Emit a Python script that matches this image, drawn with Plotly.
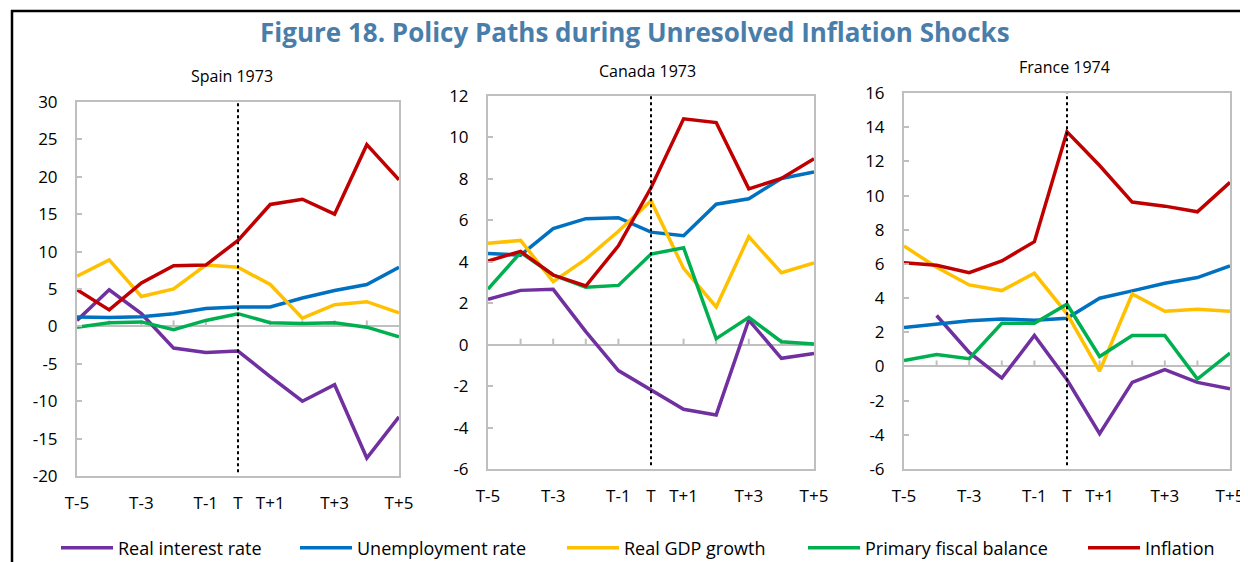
import plotly.graph_objects as go

# ---------------- data ----------------
periods = ["T-5", "T-4", "T-3", "T-2", "T-1", "T", "T+1", "T+2", "T+3", "T+4", "T+5"]
tick_labels = ["T-5", "", "T-3", "", "T-1", "T", "T+1", "", "T+3", "", "T+5"]
series_names = ["Real interest rate", "Unemployment rate", "Real GDP growth",
                "Primary fiscal balance", "Inflation"]
series_colors = ["#7030A0", "#0070C0", "#FFC000", "#00B050", "#C00000"]

panel_titles = ["Spain 1973", "Canada 1973", "France 1974"]

# Spain 1973
spain_real_rate = [0.8, 4.9, 1.7, -2.9, -3.5, -3.3, -6.7, -10.0, -7.8, -17.6, -12.1]
spain_unemp = [1.25, 1.2, 1.3, 1.7, 2.4, 2.6, 2.6, 3.8, 4.8, 5.6, 7.9]
spain_gdp = [6.7, 8.9, 4.0, 5.0, 8.2, 7.9, 5.6, 1.1, 2.9, 3.3, 1.8]
spain_fiscal = [-0.1, 0.5, 0.6, -0.45, 0.8, 1.7, 0.5, 0.4, 0.5, -0.1, -1.4]
spain_infl = [4.9, 2.2, 5.8, 8.1, 8.2, 11.5, 16.3, 17.0, 15.0, 24.3, 19.6]

# Canada 1973
canada_real_rate = [2.19, 2.62, 2.67, 0.63, -1.25, -2.19, -3.12, -3.39, 1.19, -0.66, -0.42]
canada_unemp = [4.4, 4.32, 5.6, 6.08, 6.13, 5.43, 5.26, 6.78, 7.04, 8.02, 8.33]
canada_gdp = [4.89, 5.03, 3.04, 4.13, 5.47, 6.95, 3.68, 1.82, 5.21, 3.47, 3.95]
canada_fiscal = [2.68, 4.45, 3.36, 2.77, 2.86, 4.37, 4.68, 0.29, 1.32, 0.14, 0.03]
canada_infl = [4.04, 4.5, 3.36, 2.83, 4.77, 7.57, 10.9, 10.72, 7.52, 8.02, 8.97]

# France 1974
france_real_rate = [None, 2.98, 0.82, -0.68, 1.81, -0.78, -3.93, -0.93, -0.19, -0.93, -1.3]
france_unemp = [2.28, 2.47, 2.67, 2.78, 2.71, 2.82, 3.99, 4.42, 4.87, 5.2, 5.88]
france_gdp = [7.05, 5.8, 4.77, 4.44, 5.45, 3.08, -0.27, 4.24, 3.23, 3.35, 3.23]
france_fiscal = [0.35, 0.7, 0.45, 2.53, 2.53, 3.64, 0.58, 1.81, 1.81, -0.74, 0.78]
france_infl = [6.07, 5.92, 5.49, 6.17, 7.3, 13.73, 11.76, 9.62, 9.38, 9.05, 10.77]

y_ranges = [[-20, 30], [-6, 12], [-6, 16]]
y_dticks = [5, 2, 2]
shock_period = "T"

panels = [
    [spain_real_rate, spain_unemp, spain_gdp, spain_fiscal, spain_infl],
    [canada_real_rate, canada_unemp, canada_gdp, canada_fiscal, canada_infl],
    [france_real_rate, france_unemp, france_gdp, france_fiscal, france_infl],
]

# ---------------- layout geometry ----------------
PAGE_W, PAGE_H = 1248, 562
OFF = 8                      # default page body margin
W, H = PAGE_W - OFF, PAGE_H - OFF
FONT = "Open Sans"
GRAY = "#BFBFBF"


def fx(px):
    return (px - OFF) / W


def fy(py):
    return 1 - (py - OFF) / H


x_domains = [[fx(77), fx(399)], [fx(488), fx(814)], [fx(904), fx(1230)]]
y_domains = [[fy(476), fy(102)], [fy(469), fy(96)], [fy(469), fy(93)]]
title_pos = [(fx(232), fy(76)), (fx(647), fy(71)), (fx(1064), fy(67))]
legend_x = [61, 300, 567, 808, 1088]   # left edge of each legend line sample (px)

fig = go.Figure()
idx = list(range(len(periods)))
shock_idx = periods.index(shock_period)
legend_keys = ["legend"] + [f"legend{k}" for k in range(2, len(series_names) + 1)]

for p, panel in enumerate(panels):
    xa = "x" if p == 0 else f"x{p+1}"
    ya = "y" if p == 0 else f"y{p+1}"
    for s, vals in enumerate(panel):
        fig.add_trace(go.Scatter(
            x=idx, y=vals, mode="lines", name=series_names[s],
            line=dict(color=series_colors[s], width=3.5),
            showlegend=(p == 0), legend=legend_keys[s],
            xaxis=xa, yaxis=ya, connectgaps=False, hoverinfo="skip",
        ))

    lo, hi = y_ranges[p]
    yt = list(range(lo, hi + 1, y_dticks[p]))
    axis_suffix = "" if p == 0 else str(p + 1)
    fig.update_layout(**{
        f"xaxis{axis_suffix}": dict(
            domain=x_domains[p], anchor=ya, range=[0, len(periods) - 1],
            tickmode="array", tickvals=idx, ticktext=tick_labels,
            showgrid=False, zeroline=False, ticks="", automargin=False,
            showline=True, linecolor=GRAY, linewidth=2, mirror=True,
            tickfont=dict(family=FONT, size=17, color="#000000"),
            ticklabelstandoff=11, ticklabeloverflow="allow", fixedrange=True,
        ),
        f"yaxis{axis_suffix}": dict(
            domain=y_domains[p], anchor=xa, range=y_ranges[p],
            tickmode="array", tickvals=yt, ticktext=[f"{v:d}" for v in yt],
            showgrid=False, zeroline=True, zerolinecolor=GRAY, zerolinewidth=2,
            ticks="inside", ticklen=5, tickwidth=2, tickcolor=GRAY, automargin=False,
            showline=True, linecolor=GRAY, linewidth=2, mirror=True,
            tickfont=dict(family=FONT, size=17, color="#000000"),
            ticklabelstandoff=14, fixedrange=True,
        ),
    })

    # small tick marks on the zero line
    for i in idx[1:-1]:
        fig.add_shape(type="line", xref=xa, yref=ya, x0=i, x1=i,
                      ysizemode="pixel", yanchor=0, y0=0, y1=6,
                      line=dict(color=GRAY, width=2), layer="below")

    # dotted vertical line at T
    fig.add_shape(type="line", xref=xa, yref=f"{ya} domain", x0=shock_idx, x1=shock_idx,
                  y0=0.01, y1=1, line=dict(color="#000000", width=2, dash="dot"))

    fig.add_annotation(text=panel_titles[p], xref="paper", yref="paper",
                       x=title_pos[p][0], y=title_pos[p][1], showarrow=False,
                       xanchor="center", yanchor="middle",
                       font=dict(family=FONT, size=16, color="#000000"))

# Main title
fig.add_annotation(text="<b>Figure 18. Policy Paths during Unresolved Inflation Shocks</b>",
                   xref="paper", yref="paper", x=fx(635), y=fy(32),
                   showarrow=False, xanchor="center", yanchor="middle",
                   font=dict(family=FONT, size=26, color="#4A7EAA"))

# Frame lines (top and left)
fig.add_shape(type="line", xref="paper", yref="paper", x0=fx(11), x1=1.0,
              y0=fy(11), y1=fy(11), line=dict(color="#000000", width=2.5))
fig.add_shape(type="line", xref="paper", yref="paper", x0=fx(12), x1=fx(12),
              y0=0, y1=fy(10), line=dict(color="#000000", width=2.5))

legend_layout = {}
for k, key in enumerate(legend_keys):
    legend_layout[key] = dict(
        orientation="h", x=fx(legend_x[k] - 5), y=fy(548),
        xanchor="left", yanchor="middle",
        font=dict(family=FONT, size=18, color="#000000"),
        itemwidth=52, bgcolor="rgba(0,0,0,0)", borderwidth=0,
    )

fig.update_layout(
    width=W, height=H,
    margin=dict(l=0, r=0, t=0, b=0, pad=0, autoexpand=False),
    paper_bgcolor="#FFFFFF", plot_bgcolor="#FFFFFF",
    font=dict(family=FONT, size=16, color="#000000"),
    showlegend=True,
    **legend_layout,
)

fig.write_html("out.html")
